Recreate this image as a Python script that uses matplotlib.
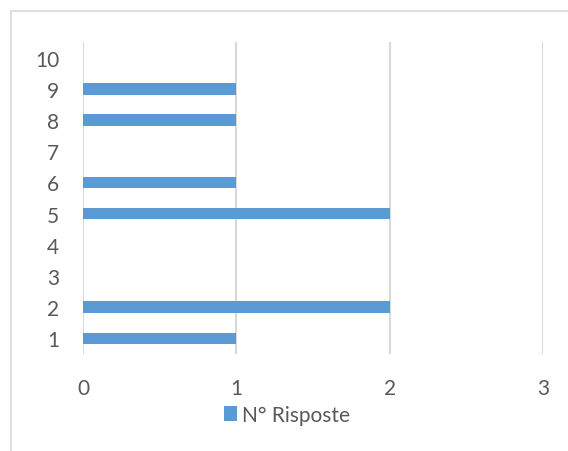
import matplotlib
matplotlib.use("Agg")
import matplotlib.pyplot as plt
from matplotlib.patches import Rectangle

categories = ["1", "2", "3", "4", "5", "6", "7", "8", "9", "10"]
risposte = [1, 2, 0, 0, 2, 1, 0, 1, 1, 0]
x_ticks = [0, 1, 2, 3]
series_name = "N° Risposte"

W, H = 568, 452
fig = plt.figure(figsize=(W / 100, H / 100), dpi=100)
plt.rcParams["font.family"] = ["Lato", "DejaVu Sans"]

text_color = "#595959"
grid_color = "#d9d9d9"
bar_color = "#5b9bd5"

# chart frame
fig.patches.append(Rectangle((11 / W, -0.1), 1.2, 1 - 12 / H + 0.1,
                             transform=fig.transFigure, fill=False,
                             edgecolor="#d9d9d9", linewidth=1.2))

left, right = 83 / W, 543 / W
top, bottom = 1 - 43 / H, 1 - 355 / H
ax = fig.add_axes([left, bottom, right - left, top - bottom])

ypos = list(range(1, len(categories) + 1))
ax.barh(ypos, risposte, height=0.37, color=bar_color, zorder=3,
        label=series_name)

ax.set_xlim(0, 3)
ax.set_ylim(0.5, len(categories) + 0.5)
ax.set_xticks(x_ticks)
ax.set_xticklabels([str(t) for t in x_ticks])
ax.set_yticks(ypos)
ax.set_yticklabels(categories)

for s in ax.spines.values():
    s.set_visible(False)
ax.grid(axis="x", color=grid_color, linewidth=1.5, zorder=0)
ax.tick_params(axis="both", length=0, labelsize=15, colors=text_color)
ax.tick_params(axis="x", pad=17)
ax.tick_params(axis="y", pad=17)

fig.legend(loc="center", bbox_to_anchor=(287 / W, 1 - 416 / H), frameon=False,
           fontsize=15, handlelength=0.6, handleheight=0.7,
           handletextpad=0.25, labelcolor=text_color)

fig.savefig("out.png", dpi=100)
